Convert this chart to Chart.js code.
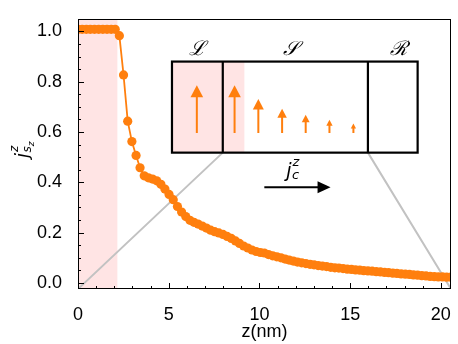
<!DOCTYPE html>
<html><head><meta charset="utf-8">
<script src="https://cdn.jsdelivr.net/npm/chart.js@4"></script>
<style>html,body{margin:0;padding:0;background:#fff;}</style>
</head><body>
<canvas id="c" width="458" height="344" style="width:458px;height:344px;display:block"></canvas>
<script>
// ---- data ----
const zValues = [0, 0.23, 0.46, 0.68, 0.91, 1.14, 1.37, 1.60, 1.83, 2.05, 2.28, 2.51, 2.74, 2.97, 3.20, 3.42, 3.65, 3.88, 4.11, 4.34, 4.57, 4.79, 5.02, 5.25, 5.48, 5.71, 5.94, 6.17, 6.39, 6.62, 6.85, 7.08, 7.31, 7.53, 7.76, 7.99, 8.22, 8.45, 8.68, 8.90, 9.13, 9.36, 9.59, 9.82, 10.05, 10.27, 10.50, 10.73, 10.96, 11.19, 11.42, 11.64, 11.87, 12.10, 12.33, 12.56, 12.79, 13.01, 13.24, 13.47, 13.70, 13.93, 14.16, 14.38, 14.61, 14.84, 15.07, 15.30, 15.53, 15.75, 15.98, 16.21, 16.44, 16.67, 16.90, 17.12, 17.35, 17.58, 17.81, 18.04, 18.27, 18.49, 18.72, 18.95, 19.18, 19.41, 19.64, 19.86, 20.09, 20.32, 20.55];
const jValues = [1.008, 1.008, 1.008, 1.008, 1.008, 1.008, 1.008, 1.008, 1.008, 1.008, 0.983, 0.827, 0.643, 0.562, 0.507, 0.458, 0.426, 0.418, 0.413, 0.406, 0.392, 0.373, 0.352, 0.331, 0.304, 0.282, 0.264, 0.249, 0.241, 0.234, 0.226, 0.218, 0.210, 0.204, 0.199, 0.193, 0.185, 0.177, 0.167, 0.157, 0.147, 0.139, 0.131, 0.125, 0.121, 0.119, 0.113, 0.108, 0.104, 0.100, 0.095, 0.091, 0.087, 0.083, 0.080, 0.077, 0.074, 0.072, 0.069, 0.067, 0.065, 0.062, 0.060, 0.059, 0.057, 0.055, 0.054, 0.052, 0.051, 0.049, 0.048, 0.047, 0.045, 0.044, 0.042, 0.041, 0.039, 0.038, 0.036, 0.035, 0.034, 0.032, 0.031, 0.029, 0.028, 0.026, 0.025, 0.024, 0.024, 0.023, 0.023];
const xTickValues = [0, 5, 10, 15, 20];
const yTickValues = [0.0, 0.2, 0.4, 0.6, 0.8, 1.0];
const leadRegion = [0, 2.17];           // shaded lead in z (nm)
const regionLabels = ['\u2112', '\uD835\uDCAE', '\u211B'];   // L, S, R (script)
const arrowMagnitudes = [1.0, 1.0, 0.71, 0.51, 0.38, 0.28, 0.20];

// ---- inset schematic geometry (data coordinates) ----
const inset = {x0: 5.18, x1: 18.72, div1: 7.98, div2: 15.98, pinkEnd: 9.17, y0: 0.518, y1: 0.880,
  arrowX: [6.55, 8.63, 9.94, 11.25, 12.55, 13.86, 15.18], arrowBase: 0.596, arrowFull: 0.19,
  arrowHead: [12, 12, 10.5, 9, 7.5, 6, 5], labelX: [6.59, 11.73, 17.66], labelY: 0.905,
  jcX: 11.48, jcY: 0.42, jcArrow: [10.27, 13.92], jcArrowY: 0.38};

const ORANGE = '#ff7f0e';
const PINK = '#ffe4e4';

const decor = {
  id: 'decor',
  beforeDatasetsDraw(chart) {
    const {ctx, chartArea: a, scales: {x, y}} = chart;
    const X = v => x.getPixelForValue(v), Y = v => y.getPixelForValue(v);
    ctx.save();
    ctx.beginPath(); ctx.rect(a.left, a.top, a.right - a.left, a.bottom - a.top); ctx.clip();
    ctx.fillStyle = PINK;
    ctx.fillRect(X(leadRegion[0]), a.top, X(leadRegion[1]) - X(leadRegion[0]), a.bottom - a.top);
    ctx.strokeStyle = '#c2c2c2'; ctx.lineWidth = 2;
    ctx.beginPath();
    ctx.moveTo(X(inset.div1), Y(inset.y0)); ctx.lineTo(a.left, a.bottom);
    ctx.moveTo(X(inset.div2), Y(inset.y0)); ctx.lineTo(a.right, a.bottom);
    ctx.stroke();
    ctx.restore();
  },
  afterDatasetsDraw(chart) {
    const {ctx, chartArea: a, scales: {x, y}} = chart;
    const X = v => x.getPixelForValue(v), Y = v => y.getPixelForValue(v);
    ctx.save();
    // inset box
    const bx0 = X(inset.x0), bx1 = X(inset.x1), by0 = Y(inset.y1), by1 = Y(inset.y0);
    ctx.fillStyle = '#fff'; ctx.fillRect(bx0, by0, bx1 - bx0, by1 - by0);
    ctx.fillStyle = PINK; ctx.fillRect(bx0, by0, X(inset.pinkEnd) - bx0, by1 - by0);
    ctx.strokeStyle = '#000'; ctx.lineWidth = 2.2;
    ctx.strokeRect(bx0, by0, bx1 - bx0, by1 - by0);
    ctx.beginPath();
    ctx.moveTo(X(inset.div1), by0); ctx.lineTo(X(inset.div1), by1);
    ctx.moveTo(X(inset.div2), by0); ctx.lineTo(X(inset.div2), by1);
    ctx.stroke();
    // spin arrows
    arrowMagnitudes.forEach((m, i) => {
      const ax = X(inset.arrowX[i]), base = Y(inset.arrowBase), tip = Y(inset.arrowBase + m * inset.arrowFull);
      const h = inset.arrowHead[i], w = h * 1.05;
      ctx.strokeStyle = ORANGE; ctx.fillStyle = ORANGE; ctx.lineWidth = 2;
      ctx.beginPath(); ctx.moveTo(ax, base); ctx.lineTo(ax, tip + h * 0.8); ctx.stroke();
      ctx.beginPath(); ctx.moveTo(ax, tip); ctx.lineTo(ax - w / 2, tip + h); ctx.lineTo(ax + w / 2, tip + h); ctx.closePath(); ctx.fill();
    });
    // region labels
    ctx.fillStyle = '#000'; ctx.textAlign = 'center'; ctx.textBaseline = 'alphabetic';
    ctx.font = 'italic 20px "DejaVu Serif"';
    regionLabels.forEach((t, i) => ctx.fillText(t, X(inset.labelX[i]), Y(inset.labelY)));
    // j_c^z label and arrow
    ctx.textAlign = 'left';
    const jx = X(inset.jcX), jy = Y(inset.jcY);
    ctx.font = 'oblique 19px "DejaVu Sans"';
    ctx.fillText('j', jx, jy);
    const jw = ctx.measureText('j').width;
    ctx.font = 'oblique 13px "DejaVu Sans"';
    ctx.fillText('z', jx + jw + 1, jy - 11);
    ctx.fillText('c', jx + jw + 0.5, jy + 2);
    const ax0 = X(inset.jcArrow[0]), ax1 = X(inset.jcArrow[1]), ay = Y(inset.jcArrowY);
    ctx.strokeStyle = '#000'; ctx.lineWidth = 2;
    ctx.beginPath(); ctx.moveTo(ax0, ay); ctx.lineTo(ax1 - 10, ay); ctx.stroke();
    ctx.beginPath(); ctx.moveTo(ax1, ay); ctx.lineTo(ax1 - 13, ay - 6); ctx.lineTo(ax1 - 13, ay + 6); ctx.closePath(); ctx.fill();
    // frame
    ctx.strokeStyle = '#000'; ctx.lineWidth = 1;
    ctx.strokeRect(Math.round(a.left) + 0.5, Math.round(a.top) + 0.5, Math.round(a.right - a.left) - 1, Math.round(a.bottom - a.top) - 1);
    // inward ticks
    ctx.beginPath();
    for (let v = 0; v <= 20.001; v += 1) {
      const px = Math.round(X(v)) + 0.5, major = xTickValues.some(t => Math.abs(t - v) < 1e-6);
      ctx.moveTo(px, a.bottom); ctx.lineTo(px, a.bottom - (major ? 6 : 3));
    }
    for (let v = 0; v <= 1.0501; v += 0.05) {
      const py = Math.round(Y(v)) + 0.5, major = yTickValues.some(t => Math.abs(t - v) < 1e-6);
      ctx.moveTo(a.left, py); ctx.lineTo(a.left + (major ? 6 : 3), py);
    }
    ctx.stroke();
    // y axis title j^z_{s_z}
    ctx.save();
    ctx.translate(28, 158); ctx.rotate(-Math.PI / 2);
    ctx.fillStyle = '#000'; ctx.textAlign = 'left'; ctx.textBaseline = 'alphabetic';
    ctx.font = 'oblique 18px "DejaVu Sans"';
    ctx.fillText('j', 0, 0);
    const w1 = ctx.measureText('j').width;
    ctx.font = 'oblique 12px "DejaVu Sans"';
    ctx.fillText('z', w1 + 1, -10);
    ctx.fillText('s', w1 + 0.5, 3);
    const w2 = ctx.measureText('s').width;
    ctx.font = 'oblique 9px "DejaVu Sans"';
    ctx.fillText('z', w1 + 0.5 + w2, 6);
    ctx.restore();
    ctx.restore();
  }
};

Chart.defaults.font.family = '"Liberation Sans", Arial, sans-serif';
Chart.defaults.color = '#000';

new Chart(document.getElementById('c'), {
  type: 'scatter',
  data: {
    datasets: [{
      data: zValues.map((z, i) => ({x: z, y: jValues[i]})),
      showLine: true,
      borderColor: ORANGE, backgroundColor: ORANGE, borderWidth: 1.8,
      pointRadius: 4.6, pointBorderWidth: 0, pointBackgroundColor: ORANGE
    }]
  },
  options: {
    responsive: false, animation: false, devicePixelRatio: 1,
    layout: {padding: {top: 5, right: 5, left: 0, bottom: 0}},
    plugins: {legend: {display: false}, tooltip: {enabled: false}},
    scales: {
      x: {
        type: 'linear', min: 0, max: 20.56,
        grid: {display: false}, border: {display: false},
        afterBuildTicks: s => { s.ticks = xTickValues.map(v => ({value: v})); },
        afterFit: s => { s.height = 55; },
        ticks: {font: {size: 18}, padding: 7, callback: v => String(v), maxRotation: 0},
        title: {display: true, text: 'z(nm)', font: {size: 18}, padding: {top: 0, bottom: 1}}
      },
      y: {
        type: 'linear', min: -0.024, max: 1.05,
        grid: {display: false}, border: {display: false},
        afterBuildTicks: s => { s.ticks = yTickValues.map(v => ({value: v})); },
        afterFit: s => { s.width = 78; },
        ticks: {font: {size: 18}, padding: 8, callback: v => v.toFixed(1)}
      }
    }
  },
  plugins: [decor]
});
</script>
</body></html>
